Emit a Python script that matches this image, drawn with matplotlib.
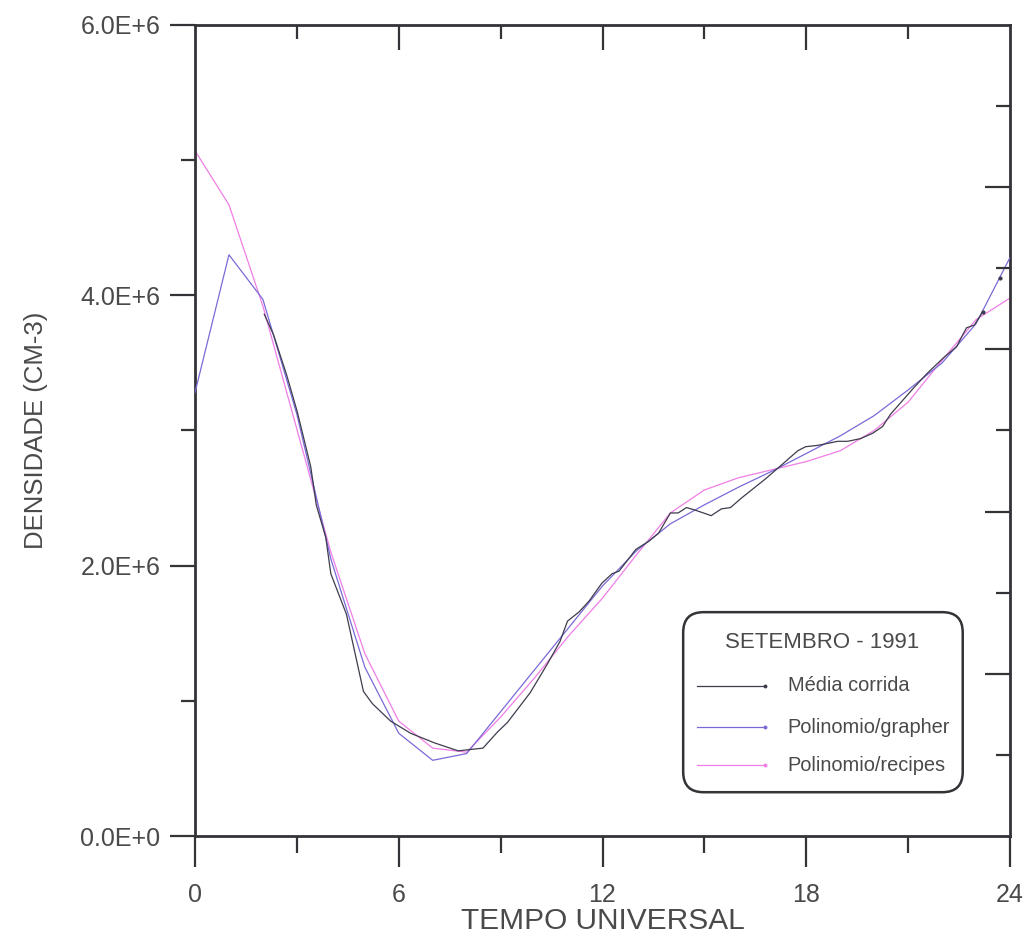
import matplotlib
matplotlib.use("Agg")
import matplotlib.pyplot as plt
from matplotlib.patches import FancyBboxPatch
from matplotlib.lines import Line2D
from matplotlib.ticker import FixedLocator, FuncFormatter

# ---------------- data ----------------
hours = list(range(0, 25))

# Polinomio/grapher (hourly), in units of 1E6 cm-3
grapher = [3.28, 4.30, 3.97, 3.12, 2.05, 1.25, 0.76, 0.56, 0.61, 0.92, 1.23,
           1.54, 1.85, 2.11, 2.31, 2.45, 2.58, 2.70, 2.83, 2.96, 3.11, 3.30,
           3.50, 3.79, 4.28]

# Polinomio/recipes (hourly)
recipes = [5.07, 4.67, 3.92, 3.01, 2.10, 1.35, 0.85, 0.65, 0.62, 0.88, 1.17,
           1.48, 1.76, 2.08, 2.39, 2.56, 2.65, 2.71, 2.77, 2.85, 3.00, 3.21,
           3.52, 3.82, 3.98]

# Media corrida (running mean)
media_x = [2.04, 2.31, 2.70, 3.01, 3.41, 3.57, 3.85, 4.00, 4.46, 4.96, 5.22,
           5.76, 6.35, 7.04, 7.75, 8.48, 8.91, 9.20, 9.87, 10.37, 10.75,
           10.97, 11.32, 11.61, 11.98, 12.28, 12.49, 12.98, 13.36, 13.65,
           14.00, 14.23, 14.47, 14.74, 15.20, 15.50, 15.77, 16.09, 16.79,
           17.25, 17.75, 17.98, 18.34, 18.93, 19.22, 19.60, 19.96, 20.25,
           20.48, 20.83, 21.18, 21.55, 22.05, 22.43, 22.57, 22.72, 22.95, 23.20]
media_y = [3.86, 3.71, 3.41, 3.14, 2.73, 2.45, 2.21, 1.94, 1.64, 1.07, 0.98,
           0.85, 0.76, 0.69, 0.63, 0.65, 0.77, 0.84, 1.06, 1.27, 1.44,
           1.59, 1.66, 1.74, 1.87, 1.94, 1.96, 2.12, 2.18, 2.24,
           2.39, 2.39, 2.43, 2.41, 2.37, 2.42, 2.43, 2.50, 2.64,
           2.74, 2.85, 2.88, 2.89, 2.92, 2.92, 2.94, 2.98, 3.03,
           3.12, 3.22, 3.32, 3.42, 3.54, 3.62, 3.69, 3.76, 3.78, 3.88]

# isolated dot near the right edge
dot_x = [23.7]
dot_y = [4.13]

scale = 1e6
x_major = [0, 6, 12, 18, 24]
x_minor = [3, 9, 15, 21]
y_major = [0, 2e6, 4e6, 6e6]
y_minor = [1e6, 3e6, 5e6]
y_right_long = [1.2e6, 2.4e6, 3.6e6, 4.8e6]
y_right_short = [0.6e6, 1.8e6, 3.0e6, 4.2e6, 5.4e6]

legend_title = "SETEMBRO - 1991"
legend_labels = ["Média corrida", "Polinomio/grapher", "Polinomio/recipes"]

c_media = "#3d3d4d"
c_grapher = "#7a6ad8"
c_recipes = "#f07ee6"
c_axis = "#333338"
c_text = "#4a4a4a"

FONT = ["Liberation Sans", "DejaVu Sans"]

# ---------------- figure ----------------
fig = plt.figure(figsize=(10.25, 9.47), dpi=100)
ax = fig.add_axes([195 / 1025, 1 - 836 / 947, 815 / 1025, 811 / 947])

ax.plot(hours, [v * scale for v in recipes], color=c_recipes, lw=0.9, zorder=2)
ax.plot(hours, [v * scale for v in grapher], color=c_grapher, lw=0.9, zorder=3)
ax.plot(media_x, [v * scale for v in media_y], color=c_media, lw=0.9, zorder=4)
ax.plot(media_x[-1:], [media_y[-1] * scale], marker="o", ms=2, color=c_media, zorder=4)
ax.plot(dot_x, [v * scale for v in dot_y], ls="none", marker="o", ms=2, color=c_media, zorder=4)

ax.set_xlim(0, 24)
ax.set_ylim(0, 6e6)

for s in ax.spines.values():
    s.set_color(c_axis)
    s.set_linewidth(2.0)

# bottom / left ticks (outward)
ax.xaxis.set_major_locator(FixedLocator(x_major))
ax.xaxis.set_minor_locator(FixedLocator(x_minor))
ax.yaxis.set_major_locator(FixedLocator(y_major))
ax.yaxis.set_minor_locator(FixedLocator(y_minor))
ax.tick_params(axis="x", which="major", direction="out", length=22, width=1.6,
               color=c_axis, pad=12, labelsize=18, labelcolor=c_text)
ax.tick_params(axis="x", which="minor", direction="out", length=12, width=1.6, color=c_axis)
ax.tick_params(axis="y", which="major", direction="out", length=18, width=1.6,
               color=c_axis, pad=7, labelsize=18, labelcolor=c_text)
ax.tick_params(axis="y", which="minor", direction="out", length=10, width=1.6, color=c_axis)


def yfmt(v, pos):
    if v == 0:
        return "0.0E+0"
    return f"{v / 1e6:.1f}E+6"


ax.yaxis.set_major_formatter(FuncFormatter(yfmt))
for lab in ax.get_xticklabels() + ax.get_yticklabels():
    lab.set_family(FONT)

# top ticks (inward)
axt = ax.twiny()
axt.set_xlim(ax.get_xlim())
axt.xaxis.set_major_locator(FixedLocator([6, 12, 18]))
axt.xaxis.set_minor_locator(FixedLocator(x_minor))
axt.tick_params(axis="x", which="major", direction="in", length=18, width=1.6,
                color=c_axis, labeltop=False)
axt.tick_params(axis="x", which="minor", direction="in", length=10, width=1.6, color=c_axis)
for s in axt.spines.values():
    s.set_visible(False)

# right ticks (inward)
axr = ax.twinx()
axr.set_ylim(ax.get_ylim())
axr.yaxis.set_major_locator(FixedLocator(y_right_long))
axr.yaxis.set_minor_locator(FixedLocator(y_right_short))
axr.tick_params(axis="y", which="major", direction="in", length=18, width=1.6,
                color=c_axis, labelright=False)
axr.tick_params(axis="y", which="minor", direction="in", length=10, width=1.6, color=c_axis)
for s in axr.spines.values():
    s.set_visible(False)

ax.set_xlabel("TEMPO UNIVERSAL", fontsize=21.5, color=c_text, family=FONT, labelpad=0)
ax.set_ylabel("DENSIDADE (CM-3)", fontsize=18.5, color=c_text, family=FONT, labelpad=23)

# ---------------- legend box ----------------
box = FancyBboxPatch((0.599, 0.054), 0.343, 0.222,
                     boxstyle="round,pad=0,rounding_size=0.025",
                     transform=ax.transAxes, facecolor="white",
                     edgecolor=c_axis, linewidth=1.8, zorder=6)
ax.add_patch(box)
ax.text(0.770, 0.238, legend_title, transform=ax.transAxes, ha="center", va="center",
        fontsize=16, color=c_text, family=FONT, zorder=7)
entry_y = [0.185, 0.134, 0.087]
entry_c = [c_media, c_grapher, c_recipes]
for yy, cc, lab in zip(entry_y, entry_c, legend_labels):
    ax.add_line(Line2D([0.616, 0.699], [yy, yy], transform=ax.transAxes,
                       color=cc, lw=0.9, zorder=7))
    ax.add_line(Line2D([0.699], [yy], transform=ax.transAxes, marker="o", ms=1.8,
                       color=cc, zorder=7))
    ax.text(0.727, yy, lab, transform=ax.transAxes, ha="left", va="center",
            fontsize=14.4, color=c_text, family=FONT, zorder=7)

fig.savefig("out.png", dpi=100, facecolor="white")
